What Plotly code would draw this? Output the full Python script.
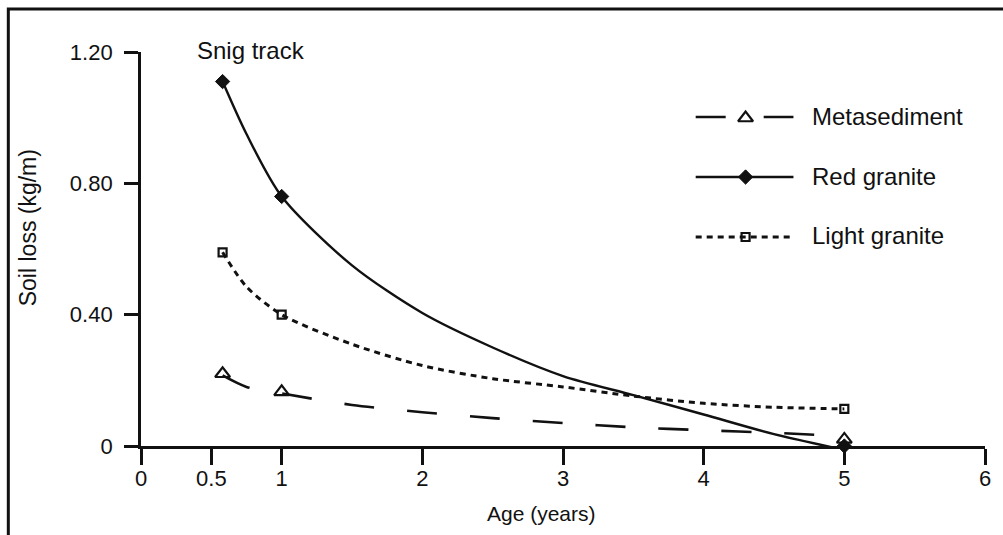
import plotly.graph_objects as go

# Observed mean soil loss at each track age
age = [0.58, 1.0, 5.0]
metasediment = [0.22, 0.165, 0.02]
red_granite = [1.11, 0.76, 0.0]
light_granite = [0.59, 0.40, 0.113]

# Fitted decay curves, sampled along age
curve_age = [0.58, 0.75, 1.0, 1.5, 2.0, 2.5, 3.0, 3.5, 4.0, 4.5, 5.0]
metasediment_fit = [0.215, 0.18, 0.16, 0.125, 0.103, 0.085, 0.07, 0.057, 0.048, 0.04, 0.03]
red_granite_fit = [1.11, 0.95, 0.76, 0.55, 0.405, 0.30, 0.213, 0.155, 0.096, 0.036, -0.012]
light_granite_fit = [0.59, 0.485, 0.40, 0.31, 0.245, 0.205, 0.18, 0.152, 0.13, 0.118, 0.113]

x_ticks = [0, 0.5, 1, 2, 3, 4, 5, 6]
x_tick_labels = ["0", "0.5", "1", "2", "3", "4", "5", "6"]
y_ticks = [0, 0.4, 0.8, 1.2]
y_tick_labels = ["0", "0.40", "0.80", "1.20"]

series_names = ["Metasediment", "Red granite", "Light granite"]

W, H = 1003, 535
L, R, T, B = 141, 16, 52, 89
PW, PH = W - L - R, H - T - B
FONT = "Liberation Sans, Arial, sans-serif"
INK = "#111111"


def px_x(px):
    return (px - L) / PW


def px_y(py):
    return (H - B - py) / PH


styles = {
    "Metasediment": dict(dash="30px,33px", width=2.6,
                         marker=dict(symbol="triangle-up-open", size=13,
                                     color=INK, line=dict(width=2.2, color=INK))),
    "Red granite": dict(dash="solid", width=2.4,
                        marker=dict(symbol="diamond", size=11, color=INK,
                                    line=dict(width=1, color=INK))),
    "Light granite": dict(dash="6px,5px", width=3,
                          marker=dict(symbol="square-open", size=8, color=INK,
                                      line=dict(width=2.2, color=INK))),
}

fits = {"Metasediment": metasediment_fit, "Red granite": red_granite_fit,
        "Light granite": light_granite_fit}
obs = {"Metasediment": metasediment, "Red granite": red_granite,
       "Light granite": light_granite}

fig = go.Figure()

for name in series_names:
    st = styles[name]
    fig.add_trace(go.Scatter(
        x=curve_age, y=fits[name], mode="lines", showlegend=False,
        line=dict(color=INK, width=st["width"], dash=st["dash"],
                  shape="spline", smoothing=0.8),
        cliponaxis=False, hoverinfo="skip"))
    fig.add_trace(go.Scatter(
        x=age, y=obs[name], mode="markers", name=name, showlegend=False,
        marker=st["marker"], cliponaxis=False))

# Key drawn on a pixel-scaled overlay so the sample lines can be long
key_rows = {"Metasediment": 117, "Red granite": 177, "Light granite": 237}
key_dash = {"Metasediment": "30px,38px", "Red granite": "solid",
            "Light granite": "6px,5px"}
key_x0, key_x1, key_mid, key_text = 697, 795, 747, 812
for name in series_names:
    st = styles[name]
    yk = key_rows[name]
    fig.add_trace(go.Scatter(
        x=[key_x0, key_x1], y=[yk, yk], mode="lines", xaxis="x2", yaxis="y2",
        showlegend=False, hoverinfo="skip",
        line=dict(color=INK, width=st["width"], dash=key_dash[name])))
    fig.add_trace(go.Scatter(
        x=[key_mid], y=[yk + (1 if name == "Metasediment" else 0)], mode="markers",
        xaxis="x2", yaxis="y2", showlegend=False, hoverinfo="skip",
        marker=st["marker"]))
    fig.add_annotation(x=px_x(key_text), y=px_y(yk - 1), xref="paper", yref="paper",
                       text=name, showarrow=False, xanchor="left", yanchor="middle",
                       font=dict(family=FONT, size=24, color=INK))

fig.add_annotation(x=px_x(251), y=px_y(50), xref="paper", yref="paper",
                   text="Snig track", showarrow=False, xanchor="center",
                   yanchor="middle", font=dict(family=FONT, size=24, color=INK))
fig.add_annotation(x=px_x(542), y=px_y(513), xref="paper", yref="paper",
                   text="Age (years)", showarrow=False, xanchor="center",
                   yanchor="middle", font=dict(family=FONT, size=21, color=INK))
fig.add_annotation(x=px_x(28), y=px_y(228), xref="paper", yref="paper",
                   text="Soil loss (kg/m)", showarrow=False, textangle=-90,
                   xanchor="center", yanchor="middle",
                   font=dict(family=FONT, size=23, color=INK))

# Outer frame (runs past the right and bottom page edges)
fig.add_shape(type="rect", xref="paper", yref="paper",
              x0=px_x(8), x1=px_x(W + 20), y0=px_y(H + 20), y1=px_y(9),
              line=dict(color=INK, width=3), fillcolor="rgba(0,0,0,0)")

axis_common = dict(showline=True, linecolor=INK, linewidth=2.8, ticks="outside",
                   tickcolor=INK, tickwidth=2.8, showgrid=False, zeroline=False,
                   tickfont=dict(family=FONT, size=22, color=INK), fixedrange=True)

fig.update_layout(
    width=W, height=H,
    margin=dict(l=L, r=R, t=T, b=B, pad=0),
    paper_bgcolor="white", plot_bgcolor="white",
    showlegend=False,
    xaxis=dict(range=[0, 6], tickvals=x_ticks, ticktext=x_tick_labels,
               ticklen=16, ticklabelstandoff=-5, **axis_common),
    yaxis=dict(range=[0, 1.2], tickvals=y_ticks, ticktext=y_tick_labels,
               ticklen=14, ticklabelstandoff=7, **axis_common),
    xaxis2=dict(overlaying="x", range=[L, W - R], visible=False, fixedrange=True),
    yaxis2=dict(overlaying="y", range=[H - B, T], visible=False, fixedrange=True),
)

fig.write_html("out.html")
